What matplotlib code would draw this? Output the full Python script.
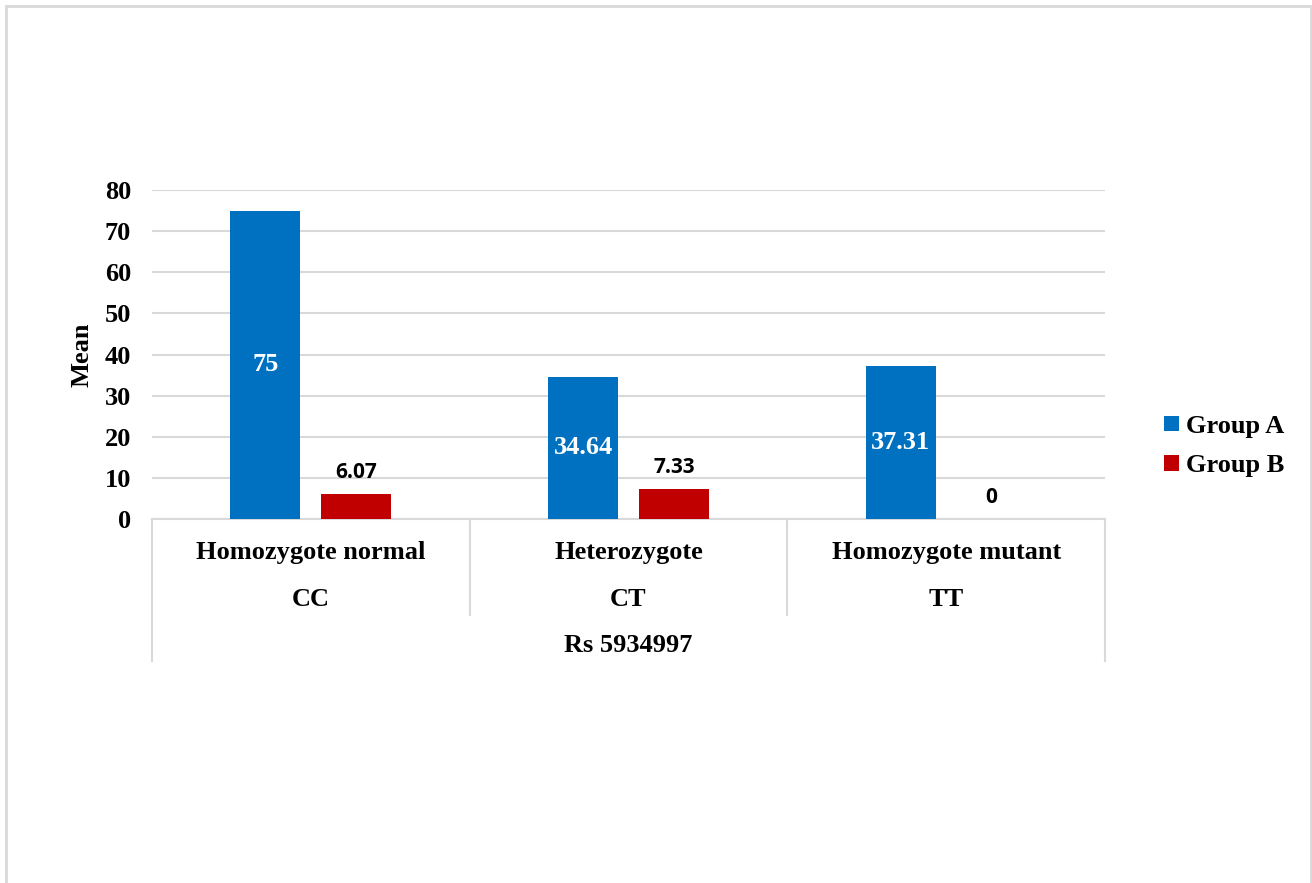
import numpy as np
import matplotlib.pyplot as plt
from matplotlib.patches import Rectangle
from matplotlib.transforms import blended_transform_factory

genotypes = ['Homozygote normal', 'Heterozygote', 'Homozygote mutant']
codes = ['CC', 'CT', 'TT']
snp = 'Rs 5934997'
group_a = [75, 34.64, 37.31]
group_b = [6.07, 7.33, 0]
a_labels = ['75', '34.64', '37.31']
b_labels = ['6.07', '7.33', '0']
yticks = [0, 10, 20, 30, 40, 50, 60, 70, 80]

serif = 'Liberation Serif'
blue = '#0070C0'
red = '#C00000'
grid = '#d9d9d9'

W, H = 1312, 883
fig = plt.figure(figsize=(W / 100, H / 100), dpi=100)
ax = fig.add_axes([152 / W, 1 - 519 / H, (1105 - 152) / W, (519 - 190) / H])

x = np.arange(len(genotypes))
bw = 0.22
off = 0.143
bars_a = ax.bar(x - off, group_a, bw, color=blue, label='Group A', zorder=3)
bars_b = ax.bar(x + off, group_b, bw, color=red, label='Group B', zorder=3)

# value labels: white inside the blue bars, black above the red ones
for b, t in zip(bars_a, a_labels):
    ax.text(b.get_x() + b.get_width() / 2, b.get_height() / 2, t, ha='center', va='center',
            color='white', fontsize=19, fontweight='bold', family=serif, zorder=4)
for b, t in zip(bars_b, b_labels):
    ax.annotate(t, (b.get_x() + b.get_width() / 2, b.get_height()), xytext=(0, 15.5),
                textcoords='offset points', ha='center', va='center', color='black',
                fontsize=15, fontweight='bold', family='Open Sans', zorder=4)

ax.set_xlim(-0.5, 2.5)
ax.set_ylim(0, 80)
ax.set_yticks(yticks)
ax.set_xticks([])
ax.yaxis.grid(True, color=grid, lw=1.5, zorder=0)
for s in ['top', 'right', 'left']:
    ax.spines[s].set_visible(False)
ax.spines['bottom'].set_color(grid)
ax.spines['bottom'].set_linewidth(1.5)
ax.tick_params(axis='y', length=0, pad=15)
for lbl in ax.get_yticklabels():
    lbl.set_fontfamily(serif)
    lbl.set_fontweight('bold')
    lbl.set_fontsize(19)
ax.set_ylabel('Mean', fontsize=19, fontweight='bold', family=serif, labelpad=8)

# two-level category axis drawn as a table under the plot
tr = blended_transform_factory(ax.transData, fig.transFigure)
def fy(py):
    return 1 - py / H
for xe, bottom in [(-0.5, 661), (0.5, 615), (1.5, 615), (2.5, 661)]:
    ax.plot([xe, xe], [fy(519), fy(bottom)], color=grid, lw=1.5, transform=tr, clip_on=False)
for xi, g, c in zip(x, genotypes, codes):
    ax.text(xi, fy(552), g, ha='center', va='center', fontsize=19, fontweight='bold',
            family=serif, transform=tr)
    ax.text(xi, fy(600), c, ha='center', va='center', fontsize=19, fontweight='bold',
            family=serif, transform=tr)
ax.text(1, fy(645), snp, ha='center', va='center', fontsize=19, fontweight='bold',
        family=serif, transform=tr)

fig.legend(handles=[bars_a, bars_b], loc='center left', bbox_to_anchor=(1164 / W, 1 - 446 / H),
           frameon=False, prop={'family': serif, 'weight': 'bold', 'size': 19},
           handlelength=0.55, handleheight=0.55, handletextpad=0.3, labelspacing=0.62,
           borderpad=0, borderaxespad=0)

fig.add_artist(Rectangle((5.5 / W, -0.05), (1310.5 - 5.5) / W, 1.05 - 6 / H,
                         transform=fig.transFigure, fill=False, edgecolor=grid, lw=2))

plt.savefig('out.png', dpi=100)
